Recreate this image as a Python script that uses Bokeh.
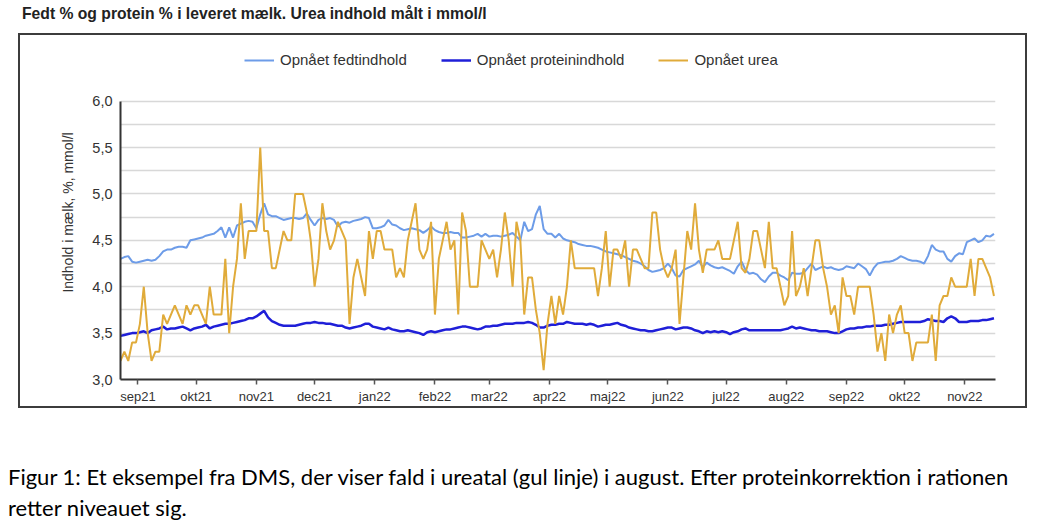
from datetime import datetime
import pandas as pd
from bokeh.plotting import figure
from bokeh.models import Range1d, FixedTicker, Legend, LegendItem, Div, ColumnDataSource
from bokeh.layouts import column
from bokeh.embed import file_html
from bokeh.resources import INLINE

title_text = "Fedt % og protein % i leveret mælk. Urea indhold målt i mmol/l"
y_label = "Indhold i mælk, %, mmol/l"
series_names = ["Opnået fedtindhold", "Opnået proteinindhold", "Opnået urea"]
month_labels = ["sep21", "okt21", "nov21", "dec21", "jan22", "feb22", "mar22", "apr22",
                "maj22", "jun22", "jul22", "aug22", "sep22", "okt22", "nov22"]
month_starts = pd.date_range("2021-09-01", periods=len(month_labels), freq="MS")
y_ticks = [3.0, 3.5, 4.0, 4.5, 5.0, 5.5, 6.0]
y_tick_labels = ["3,0", "3,5", "4,0", "4,5", "5,0", "5,5", "6,0"]
y_minor = [3.25, 3.75, 4.25, 4.75, 5.25, 5.75]
caption_lines = ["Figur 1: Et eksempel fra DMS, der viser fald i ureatal (gul linje) i august. Efter proteinkorrektion i rationen",
                 "retter niveauet sig."]

# sampling grid: every second day from 23 Aug 2021
dates = pd.date_range("2021-08-23", periods=226, freq="2D")

fat = [4.30, 4.32, 4.33, 4.27, 4.26, 4.27, 4.28, 4.29, 4.28, 4.29,
       4.33, 4.38, 4.40, 4.40, 4.42, 4.43, 4.43, 4.42, 4.50, 4.51,
       4.52, 4.53, 4.55, 4.56, 4.57, 4.60, 4.64, 4.53, 4.64, 4.53,
       4.66, 4.68, 4.70, 4.71, 4.70, 4.63, 4.78, 4.90, 4.78, 4.76,
       4.76, 4.74, 4.72, 4.73, 4.74, 4.74, 4.73, 4.74, 4.79, 4.72,
       4.66, 4.72, 4.74, 4.73, 4.74, 4.72, 4.65, 4.69, 4.70, 4.69,
       4.71, 4.72, 4.73, 4.75, 4.74, 4.63, 4.63, 4.64, 4.66, 4.72,
       4.67, 4.66, 4.63, 4.61, 4.62, 4.63, 4.62, 4.61, 4.58, 4.61,
       4.65, 4.61, 4.59, 4.58, 4.58, 4.59, 4.58, 4.58, 4.53, 4.53,
       4.54, 4.55, 4.57, 4.54, 4.57, 4.54, 4.55, 4.55, 4.54, 4.55,
       4.56, 4.58, 4.54, 4.50, 4.70, 4.60, 4.62, 4.78, 4.87, 4.62,
       4.57, 4.57, 4.53, 4.57, 4.52, 4.50, 4.49, 4.48, 4.46, 4.45,
       4.44, 4.44, 4.43, 4.42, 4.40, 4.38, 4.37, 4.36, 4.35, 4.34,
       4.32, 4.30, 4.28, 4.27, 4.25, 4.22, 4.18, 4.16, 4.17, 4.18,
       4.20, 4.25, 4.20, 4.12, 4.11, 4.18, 4.20, 4.22, 4.24, 4.28,
       4.21, 4.26, 4.23, 4.21, 4.20, 4.21, 4.19, 4.17, 4.14, 4.22,
       4.27, 4.18, 4.14, 4.15, 4.13, 4.08, 4.05, 4.11, 4.15, 4.15,
       4.12, 4.10, 4.07, 4.15, 4.14, 4.14, 4.15, 4.20, 4.25, 4.18,
       4.20, 4.22, 4.20, 4.21, 4.19, 4.18, 4.19, 4.22, 4.21, 4.20,
       4.25, 4.22, 4.19, 4.12, 4.20, 4.25, 4.26, 4.27, 4.27, 4.28,
       4.30, 4.33, 4.31, 4.29, 4.28, 4.28, 4.27, 4.25, 4.33, 4.45,
       4.40, 4.38, 4.38, 4.30, 4.27, 4.33, 4.36, 4.35, 4.48, 4.50,
       4.52, 4.48, 4.50, 4.55, 4.54, 4.57]

protein = [3.47, 3.48, 3.49, 3.50, 3.50, 3.51, 3.52, 3.50, 3.53, 3.54,
           3.55, 3.57, 3.54, 3.55, 3.55, 3.56, 3.57, 3.55, 3.53, 3.55,
           3.56, 3.57, 3.59, 3.55, 3.57, 3.58, 3.59, 3.60, 3.60, 3.61,
           3.62, 3.63, 3.64, 3.66, 3.66, 3.68, 3.71, 3.74, 3.67, 3.63,
           3.61, 3.59, 3.58, 3.58, 3.58, 3.58, 3.59, 3.60, 3.61, 3.61,
           3.62, 3.61, 3.61, 3.60, 3.60, 3.59, 3.58, 3.58, 3.56, 3.55,
           3.56, 3.57, 3.58, 3.60, 3.60, 3.57, 3.56, 3.55, 3.54, 3.56,
           3.54, 3.53, 3.52, 3.52, 3.53, 3.52, 3.51, 3.50, 3.48, 3.51,
           3.52, 3.51, 3.52, 3.53, 3.54, 3.54, 3.55, 3.56, 3.57, 3.57,
           3.56, 3.55, 3.54, 3.55, 3.57, 3.57, 3.58, 3.58, 3.59, 3.60,
           3.60, 3.60, 3.61, 3.61, 3.61, 3.62, 3.61, 3.59, 3.56, 3.56,
           3.58, 3.59, 3.59, 3.60, 3.60, 3.62, 3.61, 3.60, 3.60, 3.60,
           3.59, 3.60, 3.59, 3.57, 3.58, 3.59, 3.59, 3.60, 3.61, 3.59,
           3.58, 3.56, 3.55, 3.54, 3.53, 3.53, 3.52, 3.52, 3.53, 3.54,
           3.55, 3.56, 3.56, 3.54, 3.55, 3.56, 3.56, 3.55, 3.53, 3.52,
           3.50, 3.52, 3.51, 3.52, 3.51, 3.52, 3.51, 3.49, 3.51, 3.52,
           3.54, 3.55, 3.53, 3.53, 3.53, 3.53, 3.53, 3.53, 3.53, 3.53,
           3.53, 3.54, 3.55, 3.57, 3.55, 3.56, 3.55, 3.54, 3.53, 3.53,
           3.52, 3.52, 3.52, 3.51, 3.50, 3.50, 3.52, 3.54, 3.55, 3.55,
           3.56, 3.56, 3.57, 3.57, 3.58, 3.58, 3.58, 3.59, 3.59, 3.60,
           3.61, 3.62, 3.62, 3.62, 3.62, 3.62, 3.62, 3.63, 3.65, 3.64,
           3.63, 3.63, 3.62, 3.66, 3.68, 3.66, 3.62, 3.62, 3.62, 3.63,
           3.63, 3.63, 3.64, 3.64, 3.65, 3.66]

urea = [3.2, 3.3, 3.2, 3.4, 3.4, 3.6, 4.0, 3.5, 3.2, 3.3,
        3.3, 3.7, 3.6, 3.7, 3.8, 3.7, 3.6, 3.8, 3.7, 3.8,
        3.8, 3.7, 3.6, 4.0, 3.7, 3.7, 3.7, 4.3, 3.5, 4.0,
        4.3, 4.9, 4.3, 4.6, 4.6, 4.6, 5.5, 4.6, 4.6, 4.2,
        4.2, 4.4, 4.6, 4.5, 4.5, 5.0, 5.0, 5.0, 4.8, 4.5,
        4.0, 4.3, 4.9, 4.6, 4.4, 4.5, 4.7, 4.6, 4.5, 3.6,
        4.1, 4.3, 4.1, 3.9, 4.6, 4.3, 4.6, 4.6, 4.4, 4.4,
        4.4, 4.1, 4.2, 4.1, 4.5, 4.7, 4.9, 4.4, 4.3, 4.4,
        4.7, 3.7, 4.3, 4.5, 4.7, 4.4, 4.5, 3.7, 4.8, 4.6,
        4.0, 4.0, 4.0, 4.5, 4.4, 4.3, 4.4, 4.1, 4.4, 4.8,
        4.5, 4.0, 4.7, 4.5, 3.7, 4.1, 4.1, 3.75, 3.5, 3.1,
        3.6, 3.9, 3.6, 3.9, 3.7, 4.0, 4.5, 4.2, 4.2, 4.2,
        4.2, 4.2, 4.2, 3.9, 4.2, 4.6, 4.0, 4.4, 4.4, 4.3,
        4.5, 4.0, 4.4, 4.4, 4.3, 4.2, 4.2, 4.8, 4.8, 4.4,
        4.2, 4.1, 4.2, 4.4, 3.6, 4.1, 4.6, 4.4, 4.9, 4.4,
        4.15, 4.4, 4.4, 4.4, 4.5, 4.3, 4.3, 4.3, 4.5, 4.7,
        4.2, 4.15, 4.3, 4.6, 4.6, 4.4, 4.2, 4.7, 4.2, 4.2,
        4.0, 3.8, 3.9, 4.6, 3.9, 4.0, 4.2, 3.9, 4.2, 4.5,
        4.5, 4.2, 4.0, 3.7, 3.8, 3.5, 4.1, 3.9, 3.9, 3.7,
        4.0, 4.0, 4.0, 4.0, 3.7, 3.3, 3.5, 3.2, 3.7, 3.5,
        3.7, 3.8, 3.5, 3.5, 3.2, 3.4, 3.4, 3.4, 3.4, 3.7,
        3.2, 3.8, 3.9, 3.9, 4.1, 4.0, 4.0, 4.0, 4.0, 4.3,
        3.9, 4.3, 4.3, 4.2, 4.1, 3.9]

FONT = "Liberation Sans"
TXT = "#333333"

# the frame reaches up into the legend band; axis and grid stop at 6,0
p = figure(width=1005, height=371, x_axis_type="datetime",
           x_range=Range1d(datetime(2021, 8, 23), datetime(2022, 11, 16, 19)),
           y_range=Range1d(3.0, 6.6),
           output_backend="svg", toolbar_location=None,
           min_border_left=100, min_border_right=30, min_border_top=10, min_border_bottom=25,
           margin=(0, 0, 0, 20))
p.styles = {"outline": "2px solid #3c3c3c"}
p.outline_line_color = None
p.background_fill_color = "white"
p.border_fill_color = "white"

src_fat = ColumnDataSource(dict(x=dates[:len(fat)], y=fat))
src_pro = ColumnDataSource(dict(x=dates[:len(protein)], y=protein))
src_urea = ColumnDataSource(dict(x=dates[:len(urea)], y=urea))

r_fat = p.line("x", "y", source=src_fat, line_color="#6d9ce8", line_width=2)
r_pro = p.line("x", "y", source=src_pro, line_color="#1f1fd8", line_width=2.5)
r_urea = p.line("x", "y", source=src_urea, line_color="#e0ab3a", line_width=2)

# x axis
tick_ms = [float(t.value // 10**6) for t in month_starts]
p.xaxis.ticker = FixedTicker(ticks=tick_ms)
p.xaxis.major_label_overrides = {t: lab for t, lab in zip(tick_ms, month_labels)}
p.xaxis.minor_tick_line_color = None
p.xaxis.major_tick_out = 5
p.xaxis.major_tick_in = 0
p.xaxis.major_tick_line_color = "#555555"
p.xaxis.major_tick_line_width = 1.5
p.xaxis.axis_line_color = "#333333"
p.xaxis.axis_line_width = 2
p.xaxis.major_label_standoff = 4
p.xaxis.major_label_text_font = FONT
p.xaxis.major_label_text_font_size = "13px"
p.xaxis.major_label_text_color = TXT
p.xgrid.grid_line_color = None

# y axis
p.yaxis.ticker = FixedTicker(ticks=y_ticks, minor_ticks=y_minor)
p.yaxis.bounds = (y_ticks[0], y_ticks[-1])
p.yaxis.major_label_overrides = {t: lab for t, lab in zip(y_ticks, y_tick_labels)}
p.yaxis.major_tick_out = 0
p.yaxis.major_tick_in = 0
p.yaxis.minor_tick_line_color = None
p.yaxis.axis_line_color = "#333333"
p.yaxis.axis_line_width = 2
p.yaxis.major_label_standoff = 4
p.yaxis.major_label_text_font = FONT
p.yaxis.major_label_text_font_size = "14.5px"
p.yaxis.major_label_text_color = TXT
p.yaxis.axis_label = y_label
p.yaxis.axis_label_text_font = FONT
p.yaxis.axis_label_text_font_size = "14px"
p.yaxis.axis_label_text_font_style = "normal"
p.yaxis.axis_label_text_color = TXT
p.yaxis.axis_label_standoff = 13
p.ygrid.bounds = (y_ticks[0], y_ticks[-1])
p.ygrid.grid_line_color = "#d8d8d8"
p.ygrid.grid_line_width = 1.5
p.ygrid.minor_grid_line_color = "#d8d8d8"
p.ygrid.minor_grid_line_width = 1.5

legend = Legend(items=[LegendItem(label=series_names[0], renderers=[r_fat]),
                       LegendItem(label=series_names[1], renderers=[r_pro]),
                       LegendItem(label=series_names[2], renderers=[r_urea])],
                orientation="horizontal", location=(124, 311),
                border_line_color=None, background_fill_alpha=0,
                padding=4, spacing=34, margin=0,
                glyph_width=30, glyph_height=16, label_height=16, label_standoff=6,
                label_text_font=FONT, label_text_font_size="15px", label_text_color=TXT)
p.add_layout(legend, "center")

title_div = Div(text='<div style="line-height:16px; '
                     'font-family:\'Liberation Sans\', Arial, sans-serif; font-size:15.7px; '
                     'font-weight:bold; color:#222; white-space:nowrap;">' + title_text + '</div>',
                width=1000, height=29, margin=(6, 0, 0, 22))

caption_div = Div(text='<div style="padding-top:55px; line-height:31px; font-family:Lato, sans-serif; '
                       'font-size:22px; color:#000; white-space:nowrap;">'
                       + caption_lines[0] + '<br>' + caption_lines[1] + '</div>',
                  width=1030, height=120, margin=(0, 0, 0, 8))

layout = column(title_div, p, caption_div, spacing=0, margin=(0, 0, 0, 0))

with open("out.html", "w", encoding="utf-8") as f:
    f.write(file_html(layout, INLINE))
